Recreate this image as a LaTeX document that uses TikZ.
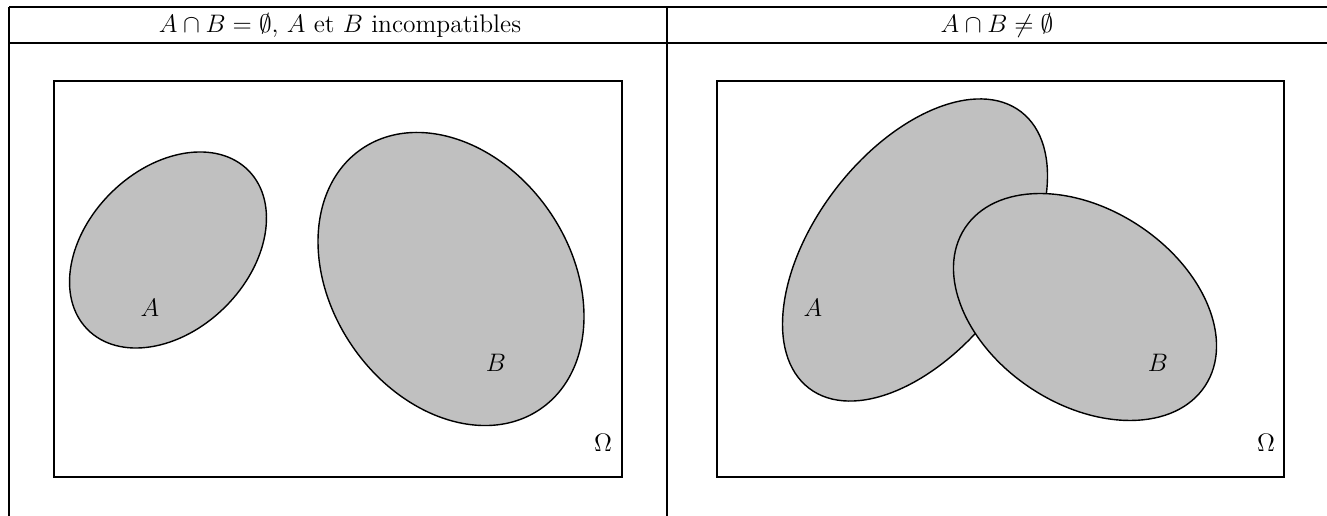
\documentclass[tikz,border=0pt]{standalone}
\usepackage{amssymb}
\definecolor{venngray}{RGB}{192,192,192}
\usetikzlibrary{positioning}

\begin{document}
\begin{tikzpicture}[x=0.02cm, y=0.02cm,
  rule/.style={line width=1pt},
  univ/.style={line width=1pt},
  venn/.style={fill=venngray, draw=black, line width=0.8pt},
  lbl/.style={inner sep=0pt, font=\fontsize{14}{17}\selectfont},
  head/.style={inner sep=0pt, font=\fontsize{14.5}{17}\selectfont}
]
\useasboundingbox (0,0) rectangle (1327,516);

% Table frame
\draw[rule] (9,509) -- (1327,509);
\draw[rule] (9,473) -- (1327,473);
\draw[rule] (9,0) -- (9,509);
\draw[rule] (667,0) -- (667,509);

% Headers
\node[head] (hleft)  at (340,491) {$A\cap B=\emptyset$, $A$ et $B$ incompatibles};
\node[head] (hright) at (997,491) {$A\cap B\neq\emptyset$};

% Left: disjoint sets
\draw[univ] (54,39) rectangle (622,435);
\filldraw[venn, rotate around={44.6:(168,266)}] (168,266) ellipse (113.1 and 80.7);
\filldraw[venn, rotate around={-55.4:(451,237)}] (451,237) ellipse (157.8 and 119.4);
\node[lbl] (aleft) at (150,208) {$A$};
\node[lbl] (bleft) at (496,153) {$B$};
\node[lbl] (oleft) at (603,73)  {$\Omega$};

% Right: overlapping sets
\draw[univ] (717,39) rectangle (1284,435);
\filldraw[venn, rotate around={52.5:(915,266)}] (915,266) ellipse (174.2 and 100.1);
\filldraw[venn, rotate around={-33.3:(1085,209)}] (1085,209) ellipse (143.7 and 97.6);
\node[lbl] (aright) at (813,208)  {$A$};
\node[lbl] (bright) at (1158,153) {$B$};
\node[lbl] (oright) at (1266,73)  {$\Omega$};
\end{tikzpicture}
\end{document}
